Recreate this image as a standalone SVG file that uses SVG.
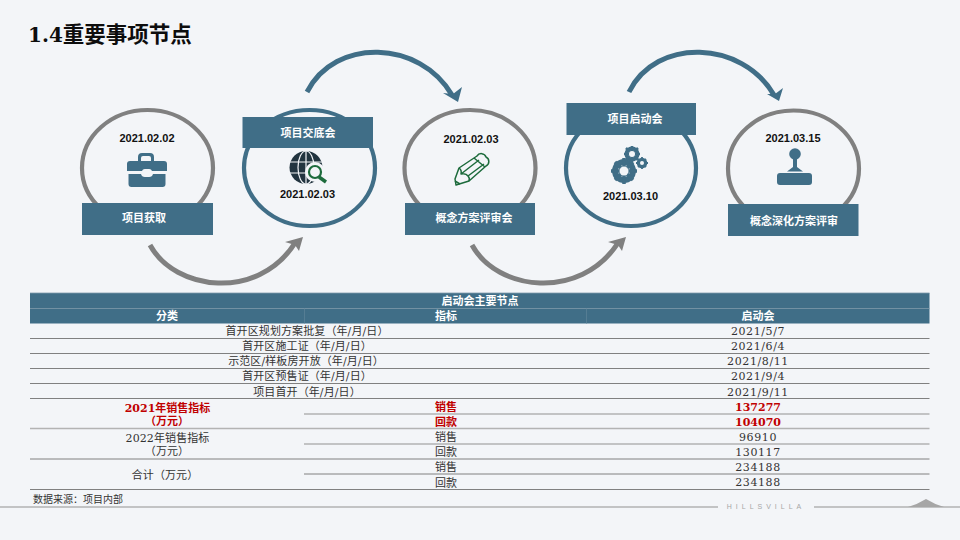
<svg xmlns="http://www.w3.org/2000/svg" width="960" height="540" viewBox="0 0 960 540">
<style>
.ring{fill:none;stroke-width:4.2}
.g{stroke:#808080}.b{stroke:#406e87}
.box{fill:#406e87}
.lbl{font:bold 11px "Noto Sans CJK SC",sans-serif;fill:#fff;text-anchor:middle}
.date{font:bold 11px "Liberation Sans",Arial,sans-serif;fill:#111;text-anchor:middle}
.arc{fill:none;stroke-width:5}
.ic{fill:#406e87}
.th{font:bold 11px "Noto Sans CJK SC",sans-serif;fill:#fff;text-anchor:middle}
.td{font:11px "DejaVu Serif","Noto Sans CJK SC",serif;fill:#333;text-anchor:middle;letter-spacing:.1px}
.tn{letter-spacing:.6px}
.rd{font:bold 11px "DejaVu Serif","Noto Sans CJK SC",serif;fill:#c00000;text-anchor:middle}
.ln{stroke:#808080;stroke-width:1}
.ln2{stroke:#b3b3b3;stroke-width:1.4}
</style>
<rect width="960" height="540" fill="#f3f5f8"/>
<text x="28" y="42" style="font:bold 21.500px 'DejaVu Serif','Noto Sans CJK SC',serif;fill:#0d0d0d"><tspan style="font-size:20px">1.4</tspan>重要事项节点</text>
<g id="connectors">
<path class="arc g" d="M150 245C175 291 258 301 295 243"/>
<path d="M303 237L285 242L295 245L299 251Z" fill="#808080"/>
<path class="arc b" d="M307 92C335 37 420 40 452 95"/>
<path d="M458 102L443 93L453 94L462 87Z" fill="#406e87"/>
<path class="arc g" d="M472 245C497 291 580 301 618 243"/>
<path d="M626 237L608 242L618 245L622 251Z" fill="#808080"/>
<path class="arc b" d="M629 92C656 37 742 40 774 95"/>
<path d="M779 101L767 94L775 94L783 88Z" fill="#406e87"/>
</g>
<g id="node1">
<ellipse class="ring g" cx="147.500" cy="168" rx="65.500" ry="58"/>
<rect class="box" x="82" y="203" width="131" height="32"/>
<text class="lbl" x="144" y="222">项目获取</text>
<text class="date" x="147" y="142">2021.02.02</text>
<g class="ic">
<path d="M127 171V164a3 3 0 0 1 3-3H138V157a4 4 0 0 1 4-4H150a4 4 0 0 1 4 4V161H164a3 3 0 0 1 3 3V171H152a3 3 0 0 0-3-2H145a3 3 0 0 0-3 2ZM141 161H151V158a2 2 0 0 0-2-2H143a2 2 0 0 0-2 2Z" fill-rule="evenodd"/>
<path d="M128.500 174H141a4 4 0 0 0 4 3H149a4 4 0 0 0 4-3H165.500V184a3 3 0 0 1-3 3H131.500a3 3 0 0 1-3-3Z"/>
</g>
</g>
<g id="node2">
<ellipse class="ring b" cx="309.500" cy="168" rx="65.500" ry="58"/>
<rect class="box" x="242.500" y="117" width="130.500" height="31"/>
<text class="lbl" x="308" y="136.500">项目交底会</text>
<text class="date" x="307.500" y="198">2021.02.03</text>
<circle cx="306" cy="167.500" r="16.500" fill="#22343f"/>
<g fill="none" stroke="#f3f5f8" stroke-width="1.200">
<ellipse cx="306" cy="167.500" rx="8" ry="16.500"/>
<path d="M290 162H322M290 173H322M306 151V184"/>
</g>
<circle cx="315" cy="172" r="10" fill="#f3f5f8"/>
<circle cx="315" cy="172" r="6" fill="#f3f5f8" stroke="#1d6b3c" stroke-width="2.200"/>
<path d="M319 177L326 182" stroke="#1d6b3c" stroke-width="3.500"/>
</g>
<g id="node3">
<ellipse class="ring g" cx="470" cy="168" rx="65.500" ry="58"/>
<rect class="box" x="405" y="203" width="130" height="32"/>
<text class="lbl" x="474" y="222">概念方案评审会</text>
<text class="date" x="471" y="143">2021.02.03</text>
<g fill="none" stroke="#1d6b3c" stroke-width="1.500" stroke-linejoin="round">
<path d="M455 179L459 168L477 156a5 5 0 0 1 9 1a5 5 0 0 1 0 9L469 181L456 185Z" fill="#f3f5f8"/>
<path d="M459 168Q462 170 461 174Q466 173 468 176Q470 178 469 181M461 174L479 160M468 176L484 164M474 158L485 167M455 181L460 184"/>
</g>
</g>
<g id="node4">
<ellipse class="ring b" cx="631" cy="168" rx="65" ry="58"/>
<rect class="box" x="566.500" y="103" width="129.500" height="32"/>
<text class="lbl" x="635" y="123">项目启动会</text>
<text class="date" x="630.500" y="200">2021.03.10</text>
<g id="gears" class="ic">
<circle cx="624" cy="171" r="9" fill="none" stroke="#406e87" stroke-width="6"/>
<path d="M624 158V184M611 171H637M615 162L633 180M633 162L615 180" stroke="#406e87" stroke-width="3.500"/>
<circle cx="624" cy="171" r="4.500" fill="#f3f5f8"/>
<circle cx="632" cy="154" r="5.500" fill="none" stroke="#406e87" stroke-width="4"/>
<path d="M632 146V162M624 154H640M626 148L638 160M638 148L626 160" stroke="#406e87" stroke-width="2.500"/>
<circle cx="632" cy="154" r="3" fill="#f3f5f8"/>
<circle cx="642" cy="163" r="3.800" fill="none" stroke="#406e87" stroke-width="3"/>
<path d="M642 157V169M636 163H648M638 159L646 167M646 159L638 167" stroke="#406e87" stroke-width="1.800"/>
<circle cx="642" cy="163" r="2" fill="#f3f5f8"/>
</g>
</g>
<g id="node5">
<ellipse class="ring g" cx="793.500" cy="168.500" rx="65.500" ry="58"/>
<rect class="box" x="728" y="204" width="130.500" height="32"/>
<text class="lbl" x="794" y="224.500">概念深化方案评审</text>
<text class="date" x="793" y="142">2021.03.15</text>
<g class="ic">
<circle cx="795" cy="154" r="5.800"/>
<path d="M793 159H797V167L803 171.500H787L793 167Z"/>
<rect x="777" y="173" width="35" height="12" rx="3"/>
</g>
</g>
<g id="table">
<rect x="30" y="293" width="899.500" height="30.500" fill="#406e87"/>
<path d="M30 293H929.500M30 308.500H929.500" stroke="#7f9aab" stroke-width=".8"/>
<path d="M304.500 308.500V323.500M586.500 308.500V323.500" stroke="#5a8197" stroke-width=".8"/>
<text class="th" x="480" y="305">启动会主要节点</text>
<text class="th" x="167" y="320">分类</text>
<text class="th" x="446" y="320">指标</text>
<text class="th" x="758" y="320">启动会</text>
<path class="ln" d="M30 338.500H929.500M30 353.500H929.500M30 368.500H929.500M30 383.500H929.500M30 398.500H929.500"/>
<path class="ln2" d="M304 414H929.500M30 428.500H929.500M304 444H929.500"/>
<path class="ln" d="M30 459H929.500M304 474H929.500M30 489.500H929.500"/>
<text class="td" x="307" y="335">首开区规划方案批复（年/月/日）</text>
<text class="td" x="307" y="350">首开区施工证（年/月/日）</text>
<text class="td" x="306" y="365">示范区/样板房开放（年/月/日）</text>
<text class="td" x="307" y="380">首开区预售证（年/月/日）</text>
<text class="td" x="307" y="396">项目首开（年/月/日）</text>
<text class="td tn" x="758" y="335">2021/5/7</text>
<text class="td tn" x="758" y="350">2021/6/4</text>
<text class="td tn" x="758" y="365">2021/8/11</text>
<text class="td tn" x="758" y="380">2021/9/4</text>
<text class="td tn" x="758" y="396">2021/9/11</text>
<text class="rd" x="167.500" y="412">2021年销售指标</text>
<text class="rd" x="167" y="425">（万元）</text>
<text class="td" x="167.500" y="442">2022年销售指标</text>
<text class="td" x="167" y="455">（万元）</text>
<text class="td" x="165" y="479">合计（万元）</text>
<text class="rd" x="446" y="411">销售</text>
<text class="rd" x="446" y="426">回款</text>
<text class="td" x="446" y="441">销售</text>
<text class="td" x="446" y="456">回款</text>
<text class="td" x="446" y="471">销售</text>
<text class="td" x="446" y="487">回款</text>
<text class="rd" x="758" y="411">137277</text>
<text class="rd" x="758" y="426">104070</text>
<text class="td tn" x="758" y="441">96910</text>
<text class="td tn" x="758" y="456">130117</text>
<text class="td tn" x="758" y="471">234188</text>
<text class="td tn" x="758" y="486">234188</text>
</g>
<text x="33" y="503" style="font:10px 'DejaVu Serif','Noto Sans CJK SC',serif;fill:#333">数据来源：项目内部</text>
<g id="footer">
<path d="M0 507H718M814 507H960" stroke="#b3b3b3" stroke-width="1.600"/>
<text x="766" y="509" style="font:7px 'Liberation Sans',Arial,sans-serif;fill:#a6a6a6;letter-spacing:4px" text-anchor="middle">HILLSVILLA</text>
<path d="M908 507Q918 504 926 499Q934 504 944 507Z" fill="#a6a6a6"/>
</g>
</svg>
